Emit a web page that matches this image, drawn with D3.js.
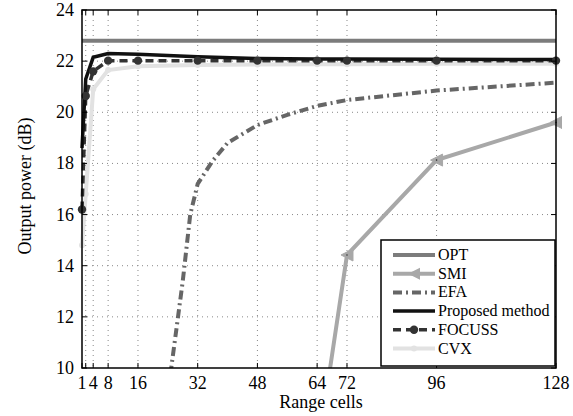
<!DOCTYPE html>
<html>
<head>
<meta charset="utf-8">
<script src="https://cdn.jsdelivr.net/npm/d3@7"></script>
</head>
<body style="margin:0">
<div id="chart"></div>
<script>
const xTicks = [1, 2, 4, 8, 16, 32, 48, 64, 72, 96, 128];
const xTickLabels = ["1", "", "4", "8", "16", "32", "48", "64", "72", "96", "128"];
const yTicks = [10, 12, 14, 16, 18, 20, 22, 24];
const xCells = [1, 2, 4, 8, 16, 32, 48, 64, 72, 96, 128];
const optValues = [22.8, 22.8, 22.8, 22.8, 22.8, 22.8, 22.8, 22.8, 22.8, 22.8, 22.8];
const proposedValues = [18.6, 21.3, 22.15, 22.3, 22.27, 22.17, 22.1, 22.08, 22.08, 22.07, 22.06];
const focussValues = [16.2, 20.64, 21.6, 22.02, 22.02, 22.02, 22.02, 22.02, 22.02, 22.02, 22.02];
const cvxValues = [14.8, 16.8, 20.9, 21.65, 21.8, 21.85, 21.87, 21.88, 21.88, 21.9, 21.9];
const smiCells = [64, 72, 96, 128];
const smiValues = [6.6, 14.42, 18.13, 19.6];
const efaCells = [24, 26, 28, 30, 32, 36, 40, 48, 56, 64, 72, 96, 128];
const efaValues = [9.0, 11.2, 13.4, 16.0, 17.2, 18.1, 18.8, 19.5, 19.9, 20.25, 20.48, 20.85, 21.16];
const legendLabels = ["OPT", "SMI", "EFA", "Proposed method", "FOCUSS", "CVX"];

const FONT = "Liberation Serif";
const svg = d3.select("#chart").append("svg").attr("width", 573).attr("height", 416)
  .style("display", "block").style("background", "#fff");
const L = 82, R = 556, T = 10, B = 368;
const x = d3.scaleLinear().domain([1, 128]).range([L, R]);
const y = d3.scaleLinear().domain([10, 24]).range([B, T]);

function txt(sel, size) {
  return sel.attr("font-family", FONT).style("font-family", '"Liberation Serif"')
    .attr("font-size", size).style("font-size", size + "px").attr("fill", "#000");
}

// grid
const g = svg.append("g");
g.selectAll("line.gx").data(xTicks.filter(d => d > 1 && d < 128)).enter().append("line")
  .attr("x1", d => x(d)).attr("x2", d => x(d)).attr("y1", T).attr("y2", B)
  .attr("stroke", "#888").attr("stroke-width", 1).attr("stroke-dasharray", "1,4");
g.selectAll("line.gy").data(yTicks.filter(d => d > 10 && d < 24)).enter().append("line")
  .attr("x1", L).attr("x2", R).attr("y1", d => y(d)).attr("y2", d => y(d))
  .attr("stroke", "#888").attr("stroke-width", 1).attr("stroke-dasharray", "1,4");

svg.append("defs").append("clipPath").attr("id", "clip").append("rect")
  .attr("x", L - 6).attr("y", T).attr("width", R - L + 12).attr("height", B - T);
const plot = svg.append("g").attr("clip-path", "url(#clip)");
const line = (xs, ys) => d3.line().x((d, i) => x(xs[i])).y(d => y(d))(ys);

plot.append("path").attr("d", line(xCells, optValues)).attr("fill", "none")
  .attr("stroke", "#7c7c7c").attr("stroke-width", 4);
plot.append("path").attr("d", line(efaCells, efaValues)).attr("fill", "none")
  .attr("stroke", "#666").attr("stroke-width", 4).attr("stroke-dasharray", "9,4,2,4");
plot.append("path").attr("d", line(smiCells, smiValues)).attr("fill", "none")
  .attr("stroke", "#a8a8a8").attr("stroke-width", 4);
const tri = "M-6,0L6,-6L6,6Z";
plot.selectAll("path.smi").data(smiValues).enter().append("path")
  .attr("d", tri).attr("transform", (d, i) => `translate(${x(smiCells[i])},${y(d)})`)
  .attr("fill", "#a8a8a8").attr("stroke", "#a8a8a8");
plot.selectAll("circle.smid").data(smiValues).enter().append("circle")
  .attr("cx", (d, i) => x(smiCells[i])).attr("cy", d => y(d)).attr("r", 0.8).attr("fill", "#333");
plot.append("path").attr("d", line(xCells, cvxValues)).attr("fill", "none")
  .attr("stroke", "#e2e2e2").attr("stroke-width", 4);
plot.selectAll("circle.cvx").data(cvxValues).enter().append("circle")
  .attr("cx", (d, i) => x(xCells[i])).attr("cy", d => y(d)).attr("r", 3).attr("fill", "#e2e2e2");
plot.append("path").attr("d", line(xCells, focussValues)).attr("fill", "none")
  .attr("stroke", "#333").attr("stroke-width", 3.5).attr("stroke-dasharray", "8,5");
plot.append("path").attr("d", line(xCells, proposedValues)).attr("fill", "none")
  .attr("stroke", "#111").attr("stroke-width", 3.5);
plot.selectAll("circle.foc").data(focussValues).enter().append("circle")
  .attr("cx", (d, i) => x(xCells[i])).attr("cy", d => y(d)).attr("r", 4.2).attr("fill", "#333");

// frame + ticks
svg.append("rect").attr("x", L).attr("y", T).attr("width", R - L).attr("height", B - T)
  .attr("fill", "none").attr("stroke", "#000").attr("stroke-width", 1.5);
const tk = svg.append("g").attr("stroke", "#000").attr("stroke-width", 1);
xTicks.forEach(d => {
  tk.append("line").attr("x1", x(d)).attr("x2", x(d)).attr("y1", B).attr("y2", B - 5);
  tk.append("line").attr("x1", x(d)).attr("x2", x(d)).attr("y1", T).attr("y2", T + 5);
});
yTicks.forEach(d => {
  tk.append("line").attr("x1", L).attr("x2", L + 5).attr("y1", y(d)).attr("y2", y(d));
  tk.append("line").attr("x1", R).attr("x2", R - 5).attr("y1", y(d)).attr("y2", y(d));
});

// labels
const lab = svg.append("g");
xTicks.forEach((d, i) => {
  if (!xTickLabels[i]) return;
  txt(lab.append("text").attr("x", x(d)).attr("y", 389).attr("text-anchor", "middle"), 18).text(xTickLabels[i]);
});
yTicks.forEach(d => {
  txt(lab.append("text").attr("x", 74).attr("y", y(d) + 6).attr("text-anchor", "end"), 18).text(String(d));
});
txt(lab.append("text").attr("x", 321).attr("y", 408).attr("text-anchor", "middle"), 18).text("Range cells");
txt(lab.append("text").attr("transform", "translate(31,186) rotate(-90)").attr("text-anchor", "middle"), 18).text("Output power (dB)");

// legend
const lg = svg.append("g");
lg.append("rect").attr("x", 381).attr("y", 240).attr("width", 174).attr("height", 126)
  .attr("fill", "#fff").attr("stroke", "#000").attr("stroke-width", 1.5);
const styles = [
  {c: "#7c7c7c", w: 4, da: null},
  {c: "#a8a8a8", w: 4, da: null, m: "tri"},
  {c: "#666", w: 4, da: "9,4,2,4"},
  {c: "#111", w: 3.5, da: null},
  {c: "#333", w: 3.5, da: "8,5", m: "circ"},
  {c: "#e2e2e2", w: 4, da: null, m: "dot"}
];
legendLabels.forEach((t, i) => {
  const yy = 255 + i * 18.7, s = styles[i];
  const ln = lg.append("line").attr("x1", 393).attr("x2", 435).attr("y1", yy).attr("y2", yy)
    .attr("stroke", s.c).attr("stroke-width", s.w);
  if (s.da) ln.attr("stroke-dasharray", s.da);
  if (s.m === "tri") lg.append("path").attr("d", tri).attr("transform", `translate(414,${yy})`).attr("fill", s.c);
  if (s.m === "circ") lg.append("circle").attr("cx", 414).attr("cy", yy).attr("r", 4.2).attr("fill", s.c);
  if (s.m === "dot") lg.append("circle").attr("cx", 414).attr("cy", yy).attr("r", 3).attr("fill", s.c);
  txt(lg.append("text").attr("x", 438).attr("y", yy + 5), 16).text(t);
});
</script>
</body>
</html>
